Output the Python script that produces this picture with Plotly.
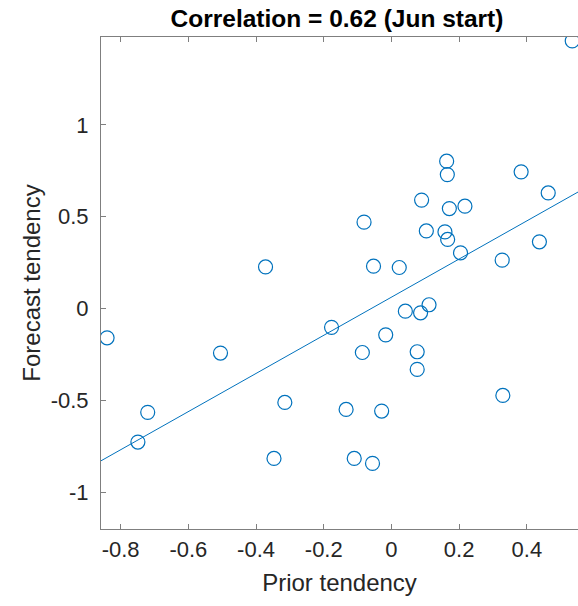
import plotly.graph_objects as go

# Data
prior_tendency = [-0.840, -0.749, -0.720, -0.505, -0.372, -0.347, -0.315, -0.177, -0.134, -0.110,
                  -0.086, -0.081, -0.056, -0.053, -0.029, -0.017, 0.023, 0.041, 0.076, 0.076,
                  0.086, 0.089, 0.103, 0.111, 0.163, 0.165, 0.158, 0.166, 0.171, 0.204,
                  0.217, 0.327, 0.329, 0.383, 0.437, 0.463, 0.534]
forecast_tendency = [-0.160, -0.728, -0.566, -0.243, 0.226, -0.817, -0.512, -0.103, -0.550, -0.817,
                     -0.240, 0.470, -0.844, 0.230, -0.559, -0.144, 0.223, -0.015, -0.236, -0.332,
                     -0.024, 0.590, 0.422, 0.020, 0.802, 0.729, 0.417, 0.376, 0.544, 0.303,
                     0.557, 0.263, -0.474, 0.744, 0.363, 0.629, 1.457]

fit_x = [-0.858, 0.551]
fit_y = [-0.830, 0.634]

x_tickvals = [-0.8, -0.6, -0.4, -0.2, 0, 0.2, 0.4]
x_ticktext = ["-0.8", "-0.6", "-0.4", "-0.2", "0", "0.2", "0.4"]
y_tickvals = [-1, -0.5, 0, 0.5, 1]
y_ticktext = ["-1", "-0.5", "0", "0.5", "1"]

x_range = [-0.858, 0.551]
y_range = [-1.2014, 1.4785]

title_text = "Correlation = 0.62 (Jun start)"
x_title = "Prior tendency"
y_title = "Forecast tendency"

BLUE = "#0072BD"
AXIS = "#7f7f7f"
TXT = "#262626"
FONT = "Liberation Sans, Arial, sans-serif"

fig = go.Figure()
fig.add_trace(go.Scatter(
    x=prior_tendency, y=forecast_tendency, mode="markers",
    marker=dict(symbol="circle-open", size=14, color=BLUE, line=dict(width=1.2, color=BLUE)),
    showlegend=False, hoverinfo="skip"))
fig.add_trace(go.Scatter(
    x=fit_x, y=fit_y, mode="lines", line=dict(color=BLUE, width=1),
    showlegend=False, hoverinfo="skip"))

fig.update_layout(
    width=578, height=606,
    margin=dict(l=101, r=0, t=37, b=77),
    paper_bgcolor="white", plot_bgcolor="white",
    font=dict(family=FONT, color=TXT, size=22),
    title=dict(text="<b>" + title_text + "</b>", x=337 / 578, xanchor="center",
               y=1 - 18 / 606, yanchor="middle", font=dict(size=24.5, color="black")),
    xaxis=dict(range=x_range, tickvals=x_tickvals, ticktext=x_ticktext,
               showline=True, linecolor=AXIS, linewidth=1, mirror="ticks",
               ticks="inside", ticklen=5, tickcolor=AXIS, tickwidth=1,
               showgrid=False, zeroline=False, tickfont=dict(size=22, color=TXT),
               ticklabelstandoff=1,
               title=dict(text=x_title, font=dict(size=24, color=TXT), standoff=12)),
    yaxis=dict(range=y_range, tickvals=y_tickvals, ticktext=y_ticktext,
               showline=True, linecolor=AXIS, linewidth=1, mirror=False,
               ticks="inside", ticklen=5, tickcolor=AXIS, tickwidth=1,
               showgrid=False, zeroline=False, tickfont=dict(size=22, color=TXT),
               ticklabelstandoff=7,
               title=dict(text=y_title, font=dict(size=24, color=TXT), standoff=3)),
    yaxis2=dict(range=y_range, overlaying="y", side="right", matches="y",
                tickvals=y_tickvals, showticklabels=False, showline=False,
                ticks="inside", ticklen=5, tickcolor=AXIS, tickwidth=1,
                showgrid=False, zeroline=False),
)

fig.write_html("out.html")
